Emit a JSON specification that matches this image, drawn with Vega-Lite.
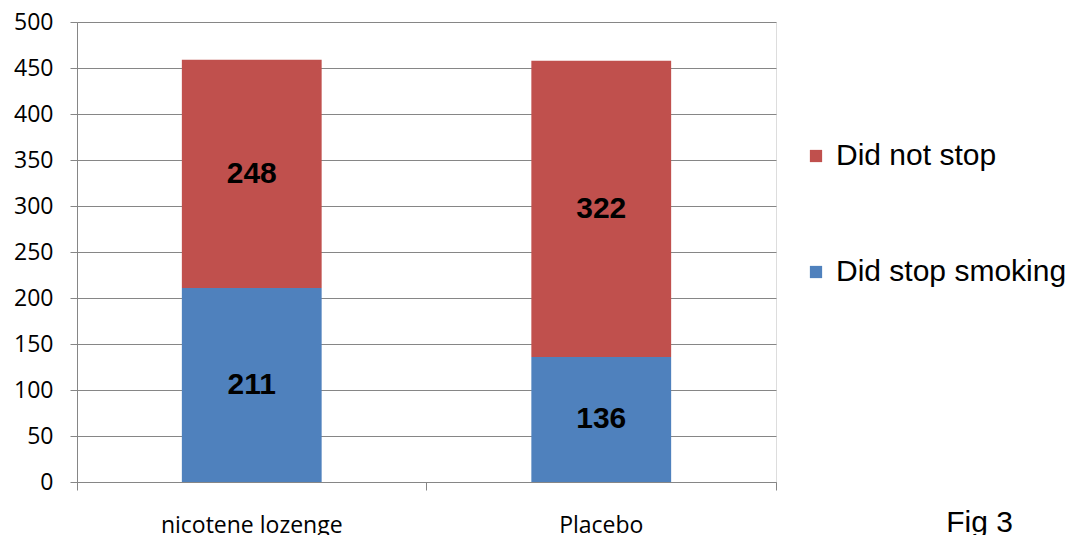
{
  "$schema": "https://vega.github.io/schema/vega-lite/v6.json",
  "width": 699,
  "height": 460,
  "autosize": {"type": "none"},
  "padding": {"left": 77, "top": 22, "right": 307, "bottom": 53},
  "background": "white",
  "data": {
    "values": [
      {"group": "nicotene lozenge", "status": "Did stop smoking", "count": 211},
      {"group": "nicotene lozenge", "status": "Did not stop", "count": 248},
      {"group": "Placebo", "status": "Did stop smoking", "count": 136},
      {"group": "Placebo", "status": "Did not stop", "count": 322}
    ]
  },
  "title": {
    "text": "Fig 3",
    "orient": "bottom",
    "anchor": "end",
    "frame": "group",
    "dx": 237,
    "offset": -29,
    "font": "Liberation Sans",
    "fontSize": 30,
    "fontWeight": "normal",
    "color": "#000000"
  },
  "encoding": {
    "x": {
      "field": "group",
      "type": "nominal",
      "sort": ["nicotene lozenge", "Placebo"],
      "scale": {"paddingInner": 0, "paddingOuter": 0},
      "axis": {
        "title": null,
        "labelAngle": 0,
        "bandPosition": 1,
        "tickExtra": true,
        "tickSize": 8,
        "tickColor": "#868686",
        "domainColor": "#868686",
        "labelFont": "Open Sans",
        "labelFontSize": 23,
        "labelColor": "#000000",
        "labelPadding": 24,
        "labelLimit": 400,
        "grid": false
      }
    }
  },
  "layer": [
    {
      "mark": {"type": "bar", "width": {"band": 0.4}},
      "encoding": {
        "y": {
          "field": "count",
          "type": "quantitative",
          "stack": "zero",
          "scale": {"domain": [0, 500], "nice": false},
          "axis": {
            "title": null,
            "values": [0, 50, 100, 150, 200, 250, 300, 350, 400, 450, 500],
            "grid": true,
            "gridColor": "#868686",
            "gridOpacity": 1,
            "tickColor": "#868686",
            "tickSize": 7,
            "domainColor": "#868686",
            "labelFont": "Open Sans",
            "labelFontSize": 23,
            "labelColor": "#000000",
            "labelPadding": 17
          }
        },
        "color": {
          "field": "status",
          "type": "nominal",
          "scale": {"domain": ["Did not stop", "Did stop smoking"], "range": ["#C0504D", "#4F81BD"]},
          "legend": {
            "title": null,
            "orient": "none",
            "legendX": 724,
            "legendY": 119,
            "symbolType": "square",
            "symbolSize": 150,
            "symbolStrokeWidth": 0,
            "symbolOpacity": 1,
            "labelFont": "Liberation Sans",
            "labelFontSize": 30,
            "labelColor": "#000000",
            "labelOffset": 5,
            "rowPadding": 86,
            "labelLimit": 400
          }
        },
        "order": {"field": "status", "sort": "descending"}
      }
    },
    {
      "mark": {"type": "text", "font": "Liberation Sans", "fontSize": 30, "fontWeight": "bold", "color": "#000000", "baseline": "middle"},
      "encoding": {
        "y": {"field": "count", "type": "quantitative", "stack": "zero", "bandPosition": 0.5},
        "detail": {"field": "status"},
        "order": {"field": "status", "sort": "descending"},
        "text": {"field": "count", "type": "quantitative"}
      }
    }
  ]
}
